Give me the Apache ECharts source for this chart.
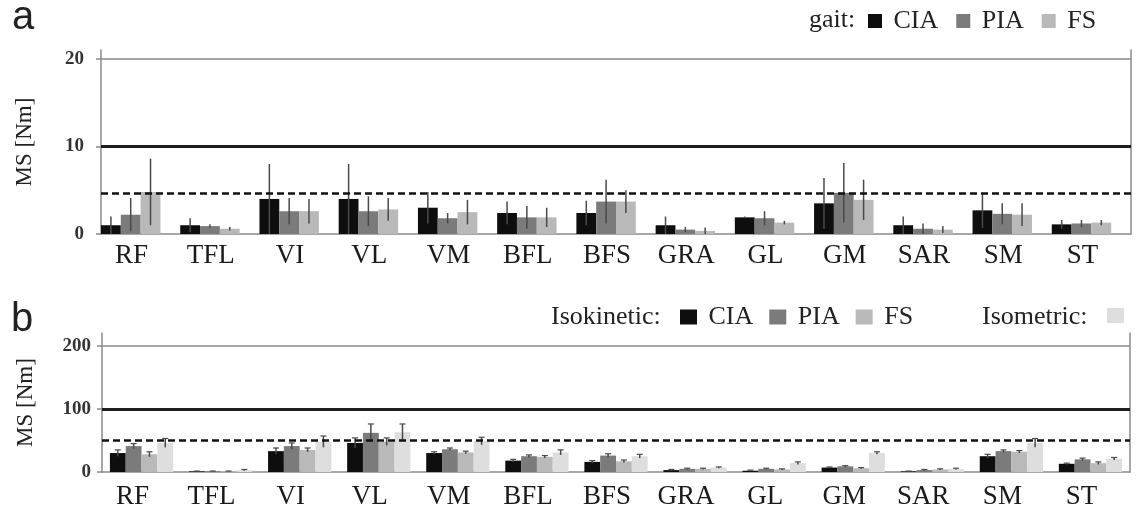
<!DOCTYPE html>
<html>
<head>
<meta charset="utf-8">
<script src="https://cdn.jsdelivr.net/npm/echarts@6/dist/echarts.min.js"></script>
<style>
html,body{margin:0;padding:0;background:#fff;}
#c{width:1142px;height:510px;}
</style>
</head>
<body>
<div id="c"></div>
<script>
// ---------- data ----------
const categories = ['RF','TFL','VI','VL','VM','BFL','BFS','GRA','GL','GM','SAR','SM','ST'];

// panel a: gait (mean, sd) in Nm
const gaitCIA   = [1.0, 1.0, 4.0, 4.0, 3.0, 2.4, 2.4, 1.0, 1.9, 3.5, 1.0, 2.7, 1.1];
const gaitCIAsd = [1.0, 0.8, 4.0, 4.0, 1.8, 1.3, 1.4, 1.0, 0.1, 2.9, 1.0, 2.0, 0.5];
const gaitPIA   = [2.2, 0.9, 2.6, 2.6, 1.8, 1.9, 3.7, 0.5, 1.8, 4.7, 0.6, 2.3, 1.2];
const gaitPIAsd = [1.9, 0.2, 1.5, 1.7, 0.6, 1.3, 2.5, 0.3, 0.8, 3.4, 0.6, 1.2, 0.4];
const gaitFS    = [4.8, 0.6, 2.6, 2.8, 2.5, 1.9, 3.7, 0.35, 1.3, 3.9, 0.5, 2.2, 1.3];
const gaitFSsd  = [3.8, 0.2, 1.4, 1.3, 1.4, 1.1, 1.3, 0.4, 0.2, 2.3, 0.4, 1.3, 0.3];

// panel b: isokinetic / isometric (mean, sd) in Nm
const isoCIA    = [30, 1, 33, 46, 30, 18, 16, 3, 2, 7, 1, 25, 13];
const isoCIAsd  = [5, 0.5, 5, 8, 2, 2, 2, 1, 1, 1, 0.5, 3, 1];
const isoPIA    = [41, 1, 41, 62, 36, 25, 26, 5, 5, 9, 3, 33, 20];
const isoPIAsd  = [4, 0.5, 5, 14, 2, 2, 3, 1, 1, 1, 1, 2, 2];
const isoFS     = [28, 1, 35, 48, 31, 24, 17, 5, 4, 6, 4, 32, 14];
const isoFSsd   = [4, 0.5, 3, 6, 2, 2, 2, 1, 1, 1, 1, 2, 2];
const isometric   = [46, 3, 48, 63, 49, 31, 25, 7, 14, 30, 5, 46, 21];
const isometricSd = [7, 1, 9, 13, 6, 4, 3, 1, 2, 2, 1, 7, 2];

const ticksA = [0, 10, 20];
const ticksB = [0, 100, 200];
const refLinesA = {grid: 20, solid: 10, dashed: 4.7};
const refLinesB = {grid: 200, solid: 100, dashed: 50};

// ---------- styles ----------
const SERIF = '"Liberation Serif","DejaVu Serif",serif';
const C_CIA = '#0e0e0e', C_PIA = '#7b7b7b', C_FS = '#b9b9b9', C_ISO = '#dedede';
const AXIS_GRAY = '#8a8a8a';

function errRender(slots, gapFrac, cap) {
  return function (params, api) {
    const ci = api.value(0), v = api.value(1), e = api.value(2), s = api.value(3);
    const w = api.size([1, 0])[0];
    const c = api.coord([ci, v]);
    const gw = w * (1 - gapFrac);
    const bw = gw / slots;
    const x = c[0] - gw / 2 + (s + 0.5) * bw;
    const top = api.coord([ci, v + e])[1];
    const bot = api.coord([ci, Math.max(0, v - e)])[1];
    const children = [{
      type: 'line',
      shape: {x1: x, y1: top, x2: x, y2: bot},
      style: {stroke: '#4a4a4a', lineWidth: 1.5}
    }];
    if (cap) {
      children.push({
        type: 'line',
        shape: {x1: x - cap, y1: top, x2: x + cap, y2: top},
        style: {stroke: '#4a4a4a', lineWidth: 1.2}
      });
    }
    return {type: 'group', children: children};
  };
}

function errData(list) {
  const out = [];
  list.forEach(function (pair, s) {
    pair[0].forEach(function (v, i) { out.push([i, v, pair[1][i], s]); });
  });
  return out;
}

function xAxisCfg(gi, margin) {
  return {
    type: 'category', gridIndex: gi, data: categories,
    axisLine: {show: true, lineStyle: {color: AXIS_GRAY, width: 1.5}},
    axisTick: {show: false},
    axisLabel: {
      fontFamily: SERIF, fontSize: 27, color: '#1a1a1a', margin: margin,
      interval: 0, padding: [0, 18, 0, 0]
    }
  };
}

function yAxisCfg(gi, max, ticks, margin) {
  return {
    type: 'value', gridIndex: gi, min: 0, max: max,
    name: 'MS [Nm]', nameLocation: 'middle', nameGap: 65,
    nameTextStyle: {fontFamily: SERIF, fontSize: 23, color: '#222'},
    axisLine: {show: true, lineStyle: {color: AXIS_GRAY, width: 1.5}},
    axisTick: {show: true, inside: false, length: 5, customValues: ticks,
      lineStyle: {color: AXIS_GRAY, width: 1.5}},
    axisLabel: {customValues: ticks, fontFamily: SERIF, fontSize: 19, fontWeight: 'bold',
      color: '#333', margin: margin},
    splitLine: {show: false}
  };
}

function rightAxisCfg(gi, max) {
  return {
    type: 'value', gridIndex: gi, min: 0, max: max, position: 'right',
    axisLine: {show: true, lineStyle: {color: AXIS_GRAY, width: 1.5}},
    axisTick: {show: false}, axisLabel: {show: false}, splitLine: {show: false}
  };
}

function refLineSeries(xi, yi, r) {
  return {
    type: 'line', xAxisIndex: xi, yAxisIndex: yi, data: [], silent: true, z: 5,
    markLine: {
      silent: true, symbol: 'none', label: {show: false},
      data: [
        {yAxis: r.grid, lineStyle: {color: '#8a8a8a', width: 1.5, type: 'solid'}},
        {yAxis: r.solid, lineStyle: {color: '#1e1e1e', width: 3, type: 'solid'}},
        {yAxis: r.dashed, lineStyle: {color: '#111', width: 2.5, type: [7, 4]}}
      ]
    }
  };
}

function bar(name, xi, yi, data, color, gap) {
  return {
    name: name, type: 'bar', xAxisIndex: xi, yAxisIndex: yi, data: data,
    itemStyle: {color: color}, barGap: '0%', barCategoryGap: gap, silent: true
  };
}

const chart = echarts.init(document.getElementById('c'), null, {renderer: 'canvas'});

const option = {
  animation: false,
  backgroundColor: '#fff',
  grid: [
    {left: 101, right: 11, top: 50, bottom: 276, containLabel: false},
    {left: 102, right: 12, top: 333, bottom: 38, containLabel: false}
  ],
  xAxis: [xAxisCfg(0, 8), xAxisCfg(1, 11)],
  yAxis: [
    yAxisCfg(0, 21, ticksA, 17),
    yAxisCfg(1, 220, ticksB, 11),
    rightAxisCfg(0, 21),
    rightAxisCfg(1, 220)
  ],
  legend: [
    {
      data: ['CIA', 'PIA', 'FS'], left: 863, top: 3, icon: 'rect',
      itemWidth: 14, itemHeight: 14, itemGap: 18, selectedMode: false,
      formatter: function (n) { return ' ' + n; },
      textStyle: {fontFamily: SERIF, fontSize: 26, color: '#222'}
    },
    {
      data: ['CIA', 'PIA', 'FS'], left: 675, top: 299, icon: 'rect',
      itemWidth: 17, itemHeight: 15, itemGap: 16, selectedMode: false,
      formatter: function (n) { return ' ' + n; },
      textStyle: {fontFamily: SERIF, fontSize: 26, color: '#222'}
    },
    {
      data: ['Isometric'], left: 1102, top: 303, icon: 'rect',
      itemWidth: 17, itemHeight: 15, selectedMode: false,
      formatter: function () { return ''; },
      textStyle: {fontSize: 1}
    }
  ],
  graphic: [
    {type: 'text', left: 12, top: -2, style: {text: 'a', font: '40px "Liberation Sans", Arial, sans-serif', fill: '#222'}},
    {type: 'text', left: 11, top: 300, style: {text: 'b', font: '40px "Liberation Sans", Arial, sans-serif', fill: '#222'}},
    {type: 'text', left: 809, top: 7, style: {text: 'gait:', font: '26px "Liberation Serif", serif', fill: '#222'}},
    {type: 'text', left: 551, top: 304, style: {text: 'Isokinetic:', font: '26px "Liberation Serif", serif', fill: '#222'}},
    {type: 'text', left: 982, top: 304, style: {text: 'Isometric:', font: '26px "Liberation Serif", serif', fill: '#222'}}
  ],
  series: [
    // panel a
    bar('CIA', 0, 0, gaitCIA, C_CIA, '0%'),
    bar('PIA', 0, 0, gaitPIA, C_PIA, '0%'),
    bar('FS', 0, 0, gaitFS, C_FS, '0%'),
    bar('slot', 0, 0, categories.map(function () { return '-'; }), C_ISO, '0%'),
    {
      type: 'custom', xAxisIndex: 0, yAxisIndex: 0, silent: true, z: 4,
      renderItem: errRender(4, 0, 0),
      data: errData([[gaitCIA, gaitCIAsd], [gaitPIA, gaitPIAsd], [gaitFS, gaitFSsd]])
    },
    refLineSeries(0, 0, refLinesA),
    // panel b
    bar('CIA', 1, 1, isoCIA, C_CIA, '20%'),
    bar('PIA', 1, 1, isoPIA, C_PIA, '20%'),
    bar('FS', 1, 1, isoFS, C_FS, '20%'),
    bar('Isometric', 1, 1, isometric, C_ISO, '20%'),
    {
      type: 'custom', xAxisIndex: 1, yAxisIndex: 1, silent: true, z: 4,
      renderItem: errRender(4, 0.2, 3),
      data: errData([[isoCIA, isoCIAsd], [isoPIA, isoPIAsd], [isoFS, isoFSsd], [isometric, isometricSd]])
    },
    refLineSeries(1, 1, refLinesB)
  ]
};
chart.setOption(option);
</script>
</body>
</html>
